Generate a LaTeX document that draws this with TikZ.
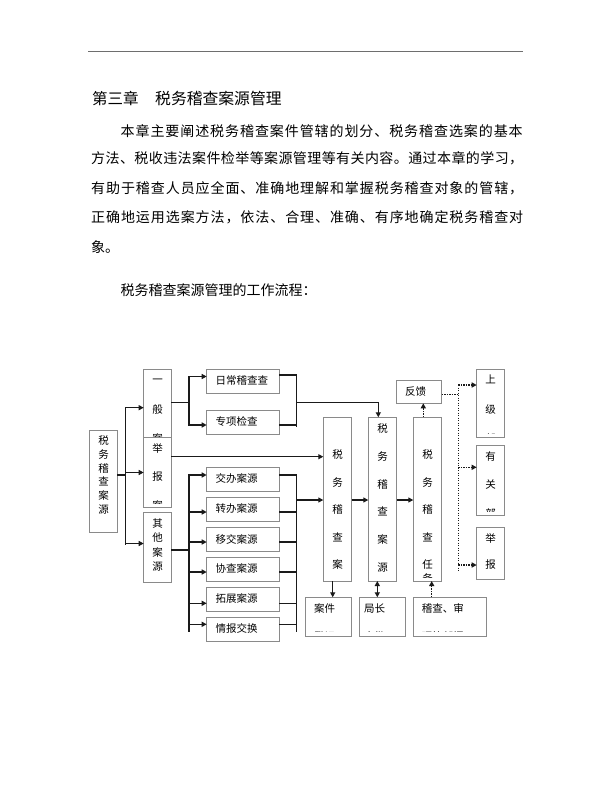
\documentclass[tikz,border=0pt]{standalone}
\usepackage{fontspec}
\setmainfont{Noto Sans CJK SC}
\usetikzlibrary{arrows.meta}
\definecolor{boxgray}{HTML}{8A8A8A}
\definecolor{lineblack}{HTML}{1A1A1A}
\definecolor{rulegray}{HTML}{6E6E6E}
\makeatletter
\let\spr@end\relax
\def\spr#1{\spr@a#1\spr@end}
\def\spr@a#1{#1\spr@b}
\def\spr@b#1{\ifx#1\spr@end\else\hfill#1\expandafter\spr@b\fi}
\makeatother
\newcommand\mybox[5]{\node[bx,anchor=north west,minimum width={(#4-#2)*1pt},minimum height={(#5-#3)*1pt}] (#1) at (#2,#3) {};}
\newcommand\clipbox[2][4pt]{\clip ([yshift=#1]#2.south west) rectangle (#2.north east);}
\newcommand\vchars[5]{\foreach \c [count=\i from 0] in {#5} {\node[chr] (#1-\i) at (#2,{#3+\i*#4}) {\c};}}
\begin{document}
\begin{tikzpicture}[x=1pt,y=-1pt,
  bx/.style={draw=boxgray,line width=0.75pt,fill=white,inner sep=0pt,outer sep=0pt},
  chr/.style={inner sep=0pt,font=\fontsize{10.5}{10.5}\selectfont,text height=9.24pt,text depth=1.26pt},
  bodytxt/.style={inner sep=0pt,anchor=west,font=\fontsize{14}{14}\selectfont,text height=12.32pt,text depth=1.68pt},
  headtxt/.style={inner sep=0pt,anchor=west,font=\fontsize{15.5}{15.5}\selectfont,text height=13.64pt,text depth=1.86pt},
  conn/.style={line width=1.4pt,draw=lineblack,line cap=rect},
  arr/.style={line width=1.4pt,draw=lineblack,-{Triangle[length=5pt,width=5pt]}},
  darr/.style={line width=1.4pt,draw=lineblack,{Triangle[length=5pt,width=5pt]}-{Triangle[length=5pt,width=5pt]}},
  dotline/.style={line width=1.4pt,draw=lineblack,dash pattern=on 1.4pt off 1.1pt},
  dotarr/.style={dotline,-{Triangle[length=5pt,width=5pt]}}
]
\fill[white] (0,0) rectangle (612,792);
\useasboundingbox (0,0) rectangle (612,792);
% top rule
\coordinate (r1) at (88.3,51);
\coordinate (r2) at (523.3,51);
\draw[rulegray,line width=0.9pt] (r1) -- (r2);
% heading
\node[headtxt] (h1) at (91.8,98.3) {第三章};
\node[headtxt,font=\fontsize{15.8}{15.8}\selectfont] (h2) at (155,98.3) {税务稽查案源管理};
% paragraph
\node[bodytxt] (l1) at (120.5,131) {\makebox[402pt][s]{\spr{本章主要阐述税务稽查案件管辖的划分、税务稽查选案的基本}}};
\node[bodytxt] (l2) at (91,158.5) {\makebox[432pt][s]{\spr{方法、税收违法案件检举等案源管理等有关内容。通过本章的学习，}}};
\node[bodytxt] (l3) at (91,188) {\makebox[432pt][s]{\spr{有助于稽查人员应全面、准确地理解和掌握税务稽查对象的管辖，}}};
\node[bodytxt] (l4) at (91,217.5) {\makebox[432pt][s]{\spr{正确地运用选案方法，依法、合理、准确、有序地确定税务稽查对}}};
\node[bodytxt] (l5) at (91,247) {象。};
\node[bodytxt] (l6) at (120.5,290) {税务稽查案源管理的工作流程：};
% ---------- boxes ----------
\mybox{src}{89.3}{430}{117.3}{532.3}
\vchars{srct}{103.5}{440.5}{13.8}{税,务,稽,查,案,源}
\mybox{gen}{143.7}{369.3}{171.3}{440}
\begin{scope}\clipbox{gen}\vchars{gent}{157.5}{380}{29.3}{一,般,案}\end{scope}
\mybox{rep}{143.7}{437.3}{171.3}{507.3}
\begin{scope}\clipbox{rep}\vchars{rept}{157.5}{448.3}{28.4}{举,报,案}\end{scope}
\mybox{oth}{143.7}{512.3}{171.3}{582.7}
\vchars{otht}{157.5}{523.5}{14.3}{其,他,案,源}
% second column
\mybox{daily}{206.7}{369.3}{279.3}{393.3}
\node[chr,anchor=west] (dailyt) at (215.5,380.7) {日常稽查查};
\mybox{spec}{206.7}{410}{279.3}{434}
\node[chr,anchor=west] (spect) at (215.5,421.7) {专项检查};
\mybox{jb}{206.7}{467.3}{279.3}{491.7}
\node[chr,anchor=west] (jbt) at (215.5,478.5) {交办案源};
\mybox{zb}{206.7}{497.3}{279.3}{521.7}
\node[chr,anchor=west] (zbt) at (215.5,509) {转办案源};
\mybox{yj}{206.7}{527.3}{279.3}{551.7}
\node[chr,anchor=west] (yjt) at (215.5,539.3) {移交案源};
\mybox{xc}{206.7}{557}{279.3}{581.3}
\node[chr,anchor=west] (xct) at (215.5,568.5) {协查案源};
\mybox{tz}{206.7}{587}{279.3}{611.3}
\node[chr,anchor=west] (tzt) at (215.5,598.5) {拓展案源};
\mybox{qb}{206.7}{617.3}{279.3}{641.7}
\node[chr,anchor=west] (qbt) at (215.5,629) {情报交换};
% tall columns
\mybox{A}{323.3}{417.3}{351.7}{581}
\begin{scope}\clipbox{A}\vchars{At}{337.5}{455}{27.5}{税,务,稽,查,案,源}\end{scope}
\mybox{B}{368.3}{417.3}{396.7}{581}
\begin{scope}\clipbox{B}\vchars{Bt}{382.5}{428.5}{27.8}{税,务,稽,查,案,源}\end{scope}
\mybox{C}{413.3}{417.3}{441.7}{581}
\begin{scope}\clipbox{C}\vchars{Ct}{427.5}{455}{27.5}{税,务,稽,查,任}\node[chr] (Ct-x) at (427.5,578.5) {务};\end{scope}
% feedback and receivers
\mybox{fb}{396}{380}{441.7}{403.3}
\node[chr,anchor=west] (fbt) at (405,391.7) {反馈};
\mybox{sj}{476.7}{369.3}{504.3}{437.7}
\begin{scope}\clipbox{sj}\vchars{sjt}{490.5}{380}{29.3}{上,级,部}\end{scope}
\mybox{yg}{476.7}{445}{504.3}{515}
\begin{scope}\clipbox{yg}\vchars{ygt}{490.5}{456.7}{28.3}{有,关,部}\end{scope}
\mybox{jbb}{476.7}{527.7}{504.3}{579.3}
\vchars{jbbt}{490.5}{538.3}{26.7}{举,报}
% bottom boxes
\mybox{aj}{305.7}{597.3}{351.7}{636.7}
\begin{scope}\clipbox[5pt]{aj}\node[chr,anchor=west] (ajt1) at (314,608.3) {案件};\node[chr,anchor=west] (ajt2) at (314,636.3) {登记};\end{scope}
\mybox{jz}{359.3}{597.3}{405.7}{636.7}
\begin{scope}\clipbox[5pt]{jz}\node[chr,anchor=west] (jzt1) at (364,608.3) {局长};\node[chr,anchor=west] (jzt2) at (364,636.3) {审批};\end{scope}
\mybox{jc}{413.3}{597.3}{486.7}{636.7}
\begin{scope}\clipbox[5pt]{jc}\node[chr,anchor=west] (jct1) at (421.7,608.3) {稽查、审};\node[chr,anchor=west] (jct2) at (421.7,636.3) {理等部门};\end{scope}
% ---------- connectors ----------
% source fan-out
\draw[conn] (src.east |- 0,475) -- (125.7,475);
\draw[conn] (125.7,407.7) -- (125.7,544);
\draw[arr] (125.7,407.7) -- (gen.west |- 0,407.7);
\draw[arr] (125.7,472.5) -- (rep.west |- 0,472.5);
\draw[arr] (125.7,543.5) -- (oth.west |- 0,543.5);
% general group
\draw[conn] (gen.east |- 0,402.7) -- (189,402.7);
\draw[conn] (189,376.5) -- (189,425);
\draw[arr] (189,376.5) -- (daily.west |- 0,376.5);
\draw[arr] (189,425) -- (spec.west |- 0,425);
\draw[conn] (daily.east |- 0,375) -- (296.7,375) -- (296.7,426.5);
\draw[conn] (spec.east |- 0,425) -- (296.7,425);
\draw[arr] (296.7,402.7) -- (378.3,402.7) -- (B.north -| 378.3,0);
% report line
\draw[arr] (rep.east |- 0,456.7) -- (A.west |- 0,456.7);
% other group
\draw[conn] (oth.east |- 0,550) -- (189,550);
\draw[conn] (189,475) -- (189,631.7);
\draw[arr] (189,475) -- (jb.west |- 0,475);
\draw[arr] (189,512) -- (zb.west |- 0,512);
\draw[arr] (189,542) -- (yj.west |- 0,542);
\draw[arr] (189,572) -- (xc.west |- 0,572);
\draw[arr] (189,603.3) -- (tz.west |- 0,603.3);
\draw[arr] (189,624.3) -- (qb.west |- 0,624.3);
\draw[conn] (jb.east |- 0,475) -- (296.7,475);
\draw[conn] (zb.east |- 0,512) -- (296.7,512);
\draw[conn] (yj.east |- 0,542) -- (296.7,542);
\draw[conn] (xc.east |- 0,572) -- (296.7,572);
\draw[conn] (tz.east |- 0,603.3) -- (296.7,603.3);
\draw[conn] (qb.east |- 0,624.3) -- (296.7,624.3);
\draw[conn] (296.7,475) -- (296.7,631.7);
\draw[arr] (296.7,500) -- (A.west |- 0,500);
% main chain
\draw[arr] (A.east |- 0,500) -- (B.west |- 0,500);
\draw[arr] (B.east |- 0,500) -- (C.west |- 0,500);
% bottom links
\draw[arr] (A.south -| 332.7,0) -- (aj.north -| 332.7,0);
\draw[darr] (B.south -| 377.3,0) -- (jz.north -| 377.3,0);
\draw[dotarr] (jc.north -| 431.7,0) -- (C.south -| 431.7,0);
% feedback dotted
\draw[dotarr] (C.north -| 423.3,0) -- (fb.south -| 423.3,0);
\draw[dotline] (fb.east |- 0,394.3) -- (458.3,394.3);
\draw[dotline] (458.3,385) -- (458.3,571.7);
\draw[dotarr] (458.3,385) -- (sj.west |- 0,385);
\draw[dotarr] (458.3,467.3) -- (yg.west |- 0,467.3);
\draw[dotarr] (458.3,565) -- (jbb.west |- 0,565);
\end{tikzpicture}
\end{document}
